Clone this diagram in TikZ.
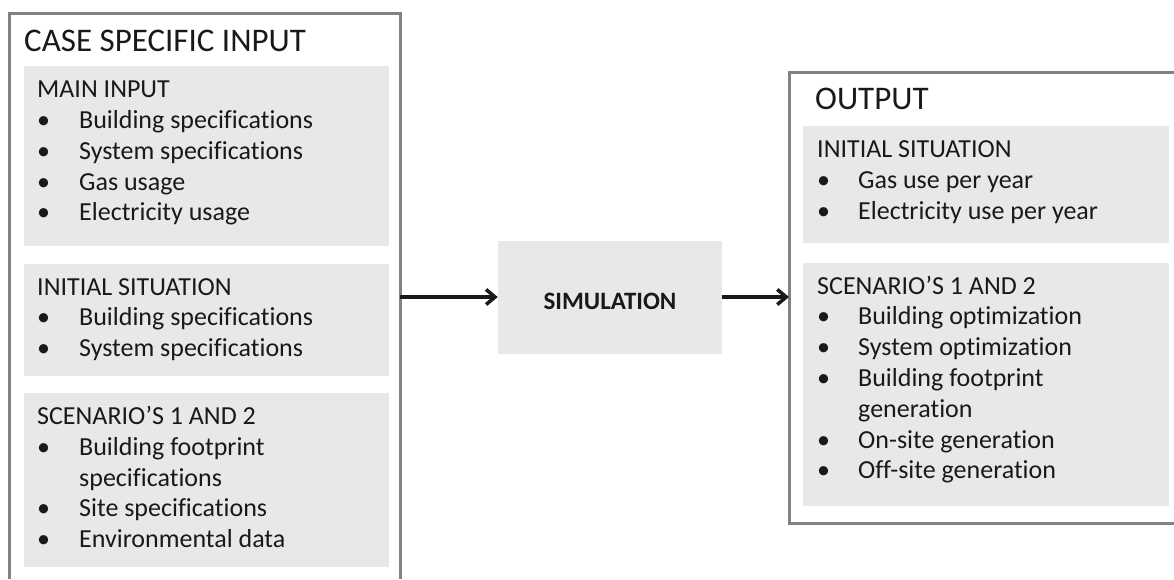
\documentclass[tikz,border=0pt]{standalone}
\usepackage{fontspec}
\setmainfont{Carlito}[Ligatures=NoCommon]
\usetikzlibrary{arrows.meta, positioning}
\definecolor{framegray}{RGB}{130, 130, 130}
\definecolor{panelgray}{RGB}{232, 232, 232}
\definecolor{ink}{RGB}{25, 25, 25}
\newcommand{\headrow}[1]{\multicolumn{2}{@{}l@{}}{#1}\\}
\newcommand{\lbul}{\textbullet&}

\begin{document}
\begin{tikzpicture}[x=1pt, y=-1pt,
            frame/.style={draw=framegray, line width=3pt},
            panel/.style={fill=panelgray, inner sep=0pt, minimum width=365pt, anchor=north west},
            itemtext/.style={inner sep=0pt, text=ink, font=\fontsize{26}{30.8}\selectfont},
            title/.style={anchor=base west, inner sep=0pt, text=ink, font=\fontsize{33}{38}\selectfont},
            flow/.style={-{Straight Barb[length=9pt, width=15pt]}, line width=3.5pt, ink}
        ]
            \useasboundingbox (0,0) rectangle (1174,579);

            % input side
            \draw[frame] (9,579) |- (400,13) -- (400,579);
            \node[title] (intitle) at (24,51) {CASE SPECIFIC INPUT};
            \node[panel, minimum height=180pt] (mainpanel) at (24,66) {};
            \node[panel, minimum height=112pt, below=17pt of mainpanel] (initpanel) {};
            \node[panel, minimum height=174pt, below=17pt of initpanel] (scenpanel) {};

            \node[itemtext, below right=10pt and 13pt of mainpanel.north west] (maintxt) {%
                \begin{tabular}{@{}p{42pt}@{}l@{}}
                \headrow{MAIN INPUT}
                \lbul Building specifications\\
                \lbul System specifications\\
                \lbul Gas usage\\
                \lbul Electricity usage
                \end{tabular}};
            \node[itemtext, below right=10pt and 13pt of initpanel.north west] (inittxt) {%
                \begin{tabular}{@{}p{42pt}@{}l@{}}
                \headrow{INITIAL SITUATION}
                \lbul Building specifications\\
                \lbul System specifications
                \end{tabular}};
            \node[itemtext, below right=10pt and 13pt of scenpanel.north west] (scentxt) {%
                \begin{tabular}{@{}p{42pt}@{}l@{}}
                \headrow{SCENARIO’S 1 AND 2}
                \lbul Building footprint\\
                & specifications\\
                \lbul Site specifications\\
                \lbul Environmental data
                \end{tabular}};

            % simulation
            \node[fill=panelgray, minimum width=224pt, minimum height=113pt, text height=25pt, text depth=0pt,
                  text=ink, font=\fontsize{25}{30}\selectfont\bfseries] (sim) at (610,297) {SIMULATION};

            % output side
            \draw[frame] (1174,72) -| (789,523) -- (1174,523);
            \node[title] (outtitle) at (815,109) {OUTPUT};
            \node[panel, minimum width=366pt, minimum height=117pt] (outinit) at (803,126) {};
            \node[panel, minimum width=366pt, minimum height=243pt, below=19pt of outinit] (outscen) {};

            \node[itemtext, below right=10pt and 14pt of outinit.north west] (outinittxt) {%
                \begin{tabular}{@{}p{41pt}@{}l@{}}
                \headrow{INITIAL SITUATION}
                \lbul Gas use per year\\
                \lbul Electricity use per year
                \end{tabular}};
            \node[itemtext, below right=10pt and 14pt of outscen.north west] (outscentxt) {%
                \begin{tabular}{@{}p{41pt}@{}l@{}}
                \headrow{SCENARIO’S 1 AND 2}
                \lbul Building optimization\\
                \lbul System optimization\\
                \lbul Building footprint\\
                & generation\\
                \lbul On-site generation\\
                \lbul Off-site generation
                \end{tabular}};

            % connectors
            \coordinate (inedge) at (400,297);
            \coordinate (outedge) at (789,297);
            \draw[flow] (inedge) -- (sim.west);
            \draw[flow] (sim.east) -- (outedge);
        \end{tikzpicture}
\end{document}
